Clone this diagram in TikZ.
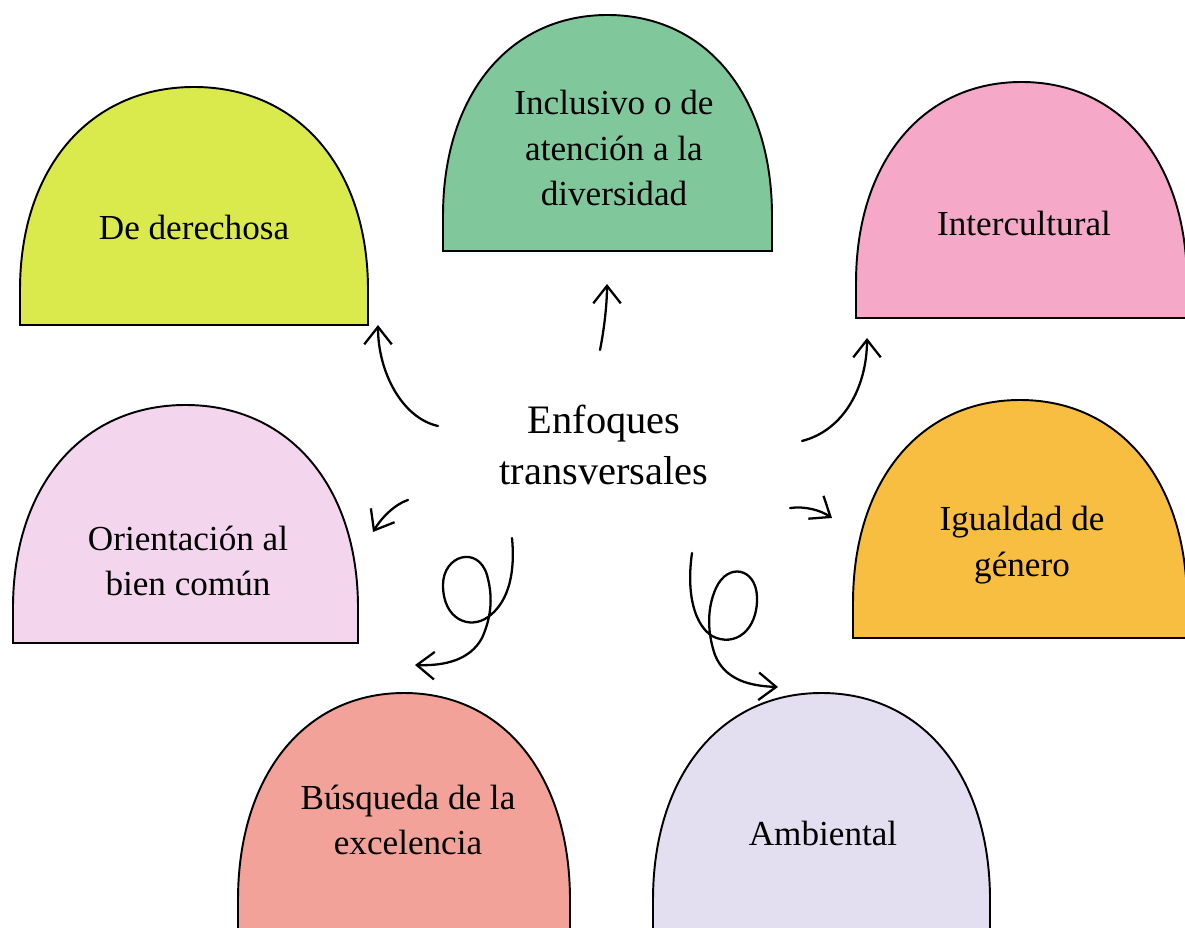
\documentclass[tikz,border=0pt]{standalone}
\usepackage{fontspec}
\setmainfont{Liberation Serif}
\usetikzlibrary{arrows.meta}

\definecolor{derechosfill}{RGB}{218,234,76}
\definecolor{inclusivofill}{RGB}{128,200,156}
\definecolor{interfill}{RGB}{245,168,200}
\definecolor{comunfill}{RGB}{243,214,238}
\definecolor{igualdadfill}{RGB}{247,190,66}
\definecolor{excelenciafill}{RGB}{242,162,152}
\definecolor{ambientalfill}{RGB}{227,223,240}

\begin{document}
\begin{tikzpicture}[
    x=0.02cm, y=-0.02cm,
    dome/.style={draw, line width=1.1pt},
    topic/.style={align=center, font=\fontsize{20}{26}\selectfont},
    hub/.style={align=center, font=\fontsize{23}{29}\selectfont},
    arrow/.style={-{Straight Barb[length=3.5mm, width=5.5mm]}, line width=1.3pt, line cap=round, line join=round}
]
    \clip (0,0) rectangle (1185,928);
    \fill[white] (0,0) rectangle (1185,928);

    % Domes
    \foreach \xa/\xb/\ya/\yb/\col in {20/368/87/325/derechosfill, 443/772/15/251/inclusivofill,
        856/1187/82/318/interfill, 13/358/405/643/comunfill, 853/1187/400/638/igualdadfill,
        238/570/693/935/excelenciafill, 653/990/693/935/ambientalfill}
        \filldraw[dome, fill=\col] (\xa,\yb) -- (\xb,\yb) -- (\xb,{\yb-35})
            .. controls (\xb,{\yb-35-0.6*(\yb-35-\ya)}) and ({(\xa+\xb)/2+0.6*(\xb-\xa)/2},\ya) .. ({(\xa+\xb)/2},\ya)
            .. controls ({(\xa+\xb)/2-0.6*(\xb-\xa)/2},\ya) and (\xa,{\yb-35-0.6*(\yb-35-\ya)}) .. (\xa,{\yb-35}) -- cycle;

    % Centre
    \node[hub] (enfoques) at (604,445) {Enfoques\\transversales};

    % Topics
    \node[topic] (derechos) at (194,227) {De derechosa};
    \node[topic] (inclusivo) at (614,148) {Inclusivo o de\\atención a la\\diversidad};
    \node[topic] (intercultural) at (1024,223) {Intercultural};
    \node[topic] (biencomun) at (188,561) {Orientación al\\bien común};
    \node[topic] (igualdad) at (1022,545) {Igualdad de\\género};
    \node[topic] (excelencia) at (408,820) {Búsqueda de la\\excelencia};
    \node[topic] (ambiental) at (823,833) {Ambiental};

    % Arrow ends
    \coordinate (from derechos) at (438,426);
    \coordinate (to derechos) at (378,325);
    \coordinate (from inclusivo) at (600,350);
    \coordinate (to inclusivo) at (607,284);
    \coordinate (from inter) at (802,441);
    \coordinate (to inter) at (867,338);
    \coordinate (from comun) at (408,500);
    \coordinate (to comun) at (373,532);
    \coordinate (from igualdad) at (790,508);
    \coordinate (to igualdad) at (832,518);
    \coordinate (from excelencia) at (512,538);
    \coordinate (to excelencia) at (415,665);
    \coordinate (from ambiental) at (692,553);
    \coordinate (to ambiental) at (778,687);

    % Arrows
    \draw[arrow] (from derechos) .. controls (402,418) and (378,372) .. (to derechos);
    \draw[arrow] (from inclusivo) .. controls (604,330) and (607,305) .. (to inclusivo);
    \draw[arrow] (from inter) .. controls (845,430) and (867,385) .. (to inter);
    \draw[arrow] (from comun) .. controls (393,505) and (380,520) .. (to comun);
    \draw[arrow] (from igualdad) .. controls (805,506) and (820,510) .. (to igualdad);
    \draw[arrow] (from excelencia) .. controls (516,580) and (505,605) .. (488,617)
        .. controls (470,630) and (443,620) .. (443,585)
        .. controls (443,555) and (478,545) .. (487,575)
        .. controls (494,600) and (490,620) .. (482,638)
        .. controls (470,660) and (445,666) .. (to excelencia);
    \draw[arrow] (from ambiental) .. controls (686,595) and (695,625) .. (712,636)
        .. controls (735,648) and (758,630) .. (757,597)
        .. controls (756,568) and (728,562) .. (716,588)
        .. controls (706,610) and (708,635) .. (715,655)
        .. controls (725,680) and (750,686) .. (to ambiental);
\end{tikzpicture}
\end{document}
